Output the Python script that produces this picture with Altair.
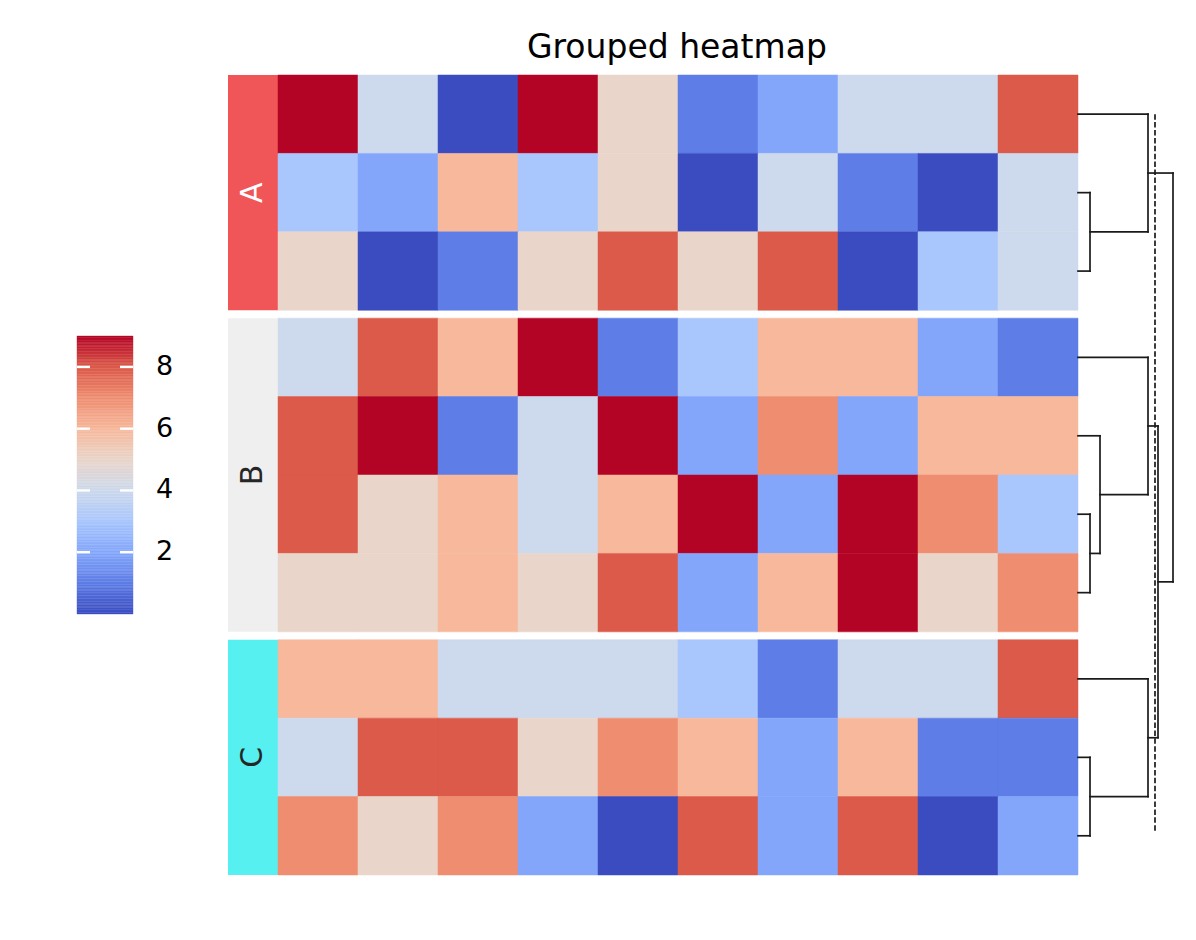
import altair as alt
import pandas as pd
import numpy as np

# ---------------- data ----------------
title_text = "Grouped heatmap"
groups = ["A", "B", "C"]
group_sizes = [3, 4, 3]
group_colors = ["#f05558", "#efefef", "#55f0ef"]
group_text_colors = ["#ffffff", "#262626", "#262626"]

row_A1 = [9, 4, 0, 9, 5, 1, 2, 4, 4, 8]
row_A2 = [3, 2, 6, 3, 5, 0, 4, 1, 0, 4]
row_A3 = [5, 0, 1, 5, 8, 5, 8, 0, 3, 4]
row_B1 = [4, 8, 6, 9, 1, 3, 6, 6, 2, 1]
row_B2 = [8, 9, 1, 4, 9, 2, 7, 2, 6, 6]
row_B3 = [8, 5, 6, 4, 6, 9, 2, 9, 7, 3]
row_B4 = [5, 5, 6, 5, 8, 2, 6, 9, 5, 7]
row_C1 = [6, 6, 4, 4, 4, 3, 1, 4, 4, 8]
row_C2 = [4, 8, 8, 5, 7, 6, 2, 6, 1, 1]
row_C3 = [7, 5, 7, 2, 0, 8, 2, 8, 0, 2]
rows = [row_A1, row_A2, row_A3, row_B1, row_B2, row_B3, row_B4, row_C1, row_C2, row_C3]

# dendrogram linkage (leaves 0..9 = rows top to bottom, internal nodes 10..)
link_left = [1, 0, 5, 4, 3, 8, 7, 14, 11]
link_right = [2, 10, 6, 12, 13, 9, 15, 16, 17]
link_height = [1.2, 7.0, 1.2, 2.2, 7.0, 1.2, 7.0, 8.0, 9.5]
cut_height = 7.7

cbar_ticks = [2, 4, 6, 8]
cmap_domain = [0, 1, 2, 3, 4, 5, 6, 7, 8, 9]
cmap_colors = ["#3b4cc0", "#5e7de6", "#83a6fb", "#a9c6fd", "#cdd9ec",
               "#e9d5ca", "#f7b89c", "#ef8d70", "#db5a49", "#b40426"]

# ---------------- layout helpers ----------------
GAP = 0.1
row_top = []
offset = 0.0
for gi, n in enumerate(group_sizes):
    for k in range(n):
        row_top.append(offset + k)
    offset += n + GAP
Y_MAX = offset - GAP

yscale = alt.Scale(domain=[0, Y_MAX], reverse=True, nice=False, zero=False)
cscale = alt.Scale(domain=cmap_domain, range=cmap_colors, interpolate="rgb")

# heatmap table
cells = []
for r, vals in enumerate(rows):
    for c, v in enumerate(vals):
        cells.append({"c0": c, "c1": c + 1, "r0": row_top[r], "r1": row_top[r] + 1, "v": v})
cells = pd.DataFrame(cells)

W_HEAT, H = 800, 800
heat = alt.Chart(cells).mark_rect(strokeWidth=0.5).encode(
    x=alt.X("c0:Q", scale=alt.Scale(domain=[0, 10], nice=False, zero=False), axis=None),
    x2="c1:Q",
    y=alt.Y("r0:Q", scale=yscale, axis=None),
    y2="r1:Q",
    color=alt.Color("v:Q", scale=cscale, legend=None),
    stroke=alt.Stroke("v:Q", scale=cscale, legend=None),
).properties(width=W_HEAT, height=H)

# group strip
strip_rows = []
off = 0.0
for gi, n in enumerate(group_sizes):
    strip_rows.append({"g": groups[gi], "x0": 0, "x1": 1, "y0": off, "y1": off + n,
                       "ym": off + n / 2, "fill": group_colors[gi], "tc": group_text_colors[gi]})
    off += n + GAP
strip_df = pd.DataFrame(strip_rows)
sx = alt.Scale(domain=[0, 1], nice=False, zero=False)
strip_rect = alt.Chart(strip_df).mark_rect().encode(
    x=alt.X("x0:Q", scale=sx, axis=None), x2="x1:Q",
    y=alt.Y("y0:Q", scale=yscale, axis=None), y2="y1:Q",
    color=alt.Color("fill:N", scale=None, legend=None),
)
strip_text = alt.Chart(strip_df).mark_text(
    angle=270, fontSize=30, font="DejaVu Sans", align="center", baseline="middle"
).encode(
    x=alt.value(25),
    y=alt.Y("ym:Q", scale=yscale, axis=None),
    text="g:N",
    color=alt.Color("tc:N", scale=None, legend=None),
)
strip = alt.layer(strip_rect, strip_text).properties(width=50, height=H)

# dendrogram segments
node_y = [row_top[i] + 0.5 for i in range(len(rows))]
node_h = [0.0] * len(rows)
segs = []
for a, b, h in zip(link_left, link_right, link_height):
    ya, yb = node_y[a], node_y[b]
    segs.append({"x": node_h[a], "x2": h, "y": ya, "y2": ya})
    segs.append({"x": node_h[b], "x2": h, "y": yb, "y2": yb})
    segs.append({"x": h, "x2": h, "y": ya, "y2": yb})
    node_y.append((ya + yb) / 2)
    node_h.append(h)
segs = pd.DataFrame(segs)
dx = alt.Scale(domain=[0, 10], nice=False, zero=False)
dendro_lines = alt.Chart(segs).mark_rule(color="#1a1a1a", strokeWidth=1.7, strokeCap="square").encode(
    x=alt.X("x:Q", scale=dx, axis=None), x2="x2:Q",
    y=alt.Y("y:Q", scale=yscale, axis=None), y2="y2:Q",
)
cut_df = pd.DataFrame({"x": [cut_height], "y": [node_y[0]], "y2": [node_y[len(rows) - 1] - 0.04]})
dendro_cut = alt.Chart(cut_df).mark_rule(color="#1a1a1a", strokeWidth=1.7, strokeDash=[5.5, 2.4]).encode(
    x=alt.X("x:Q", scale=dx, axis=None),
    y=alt.Y("y:Q", scale=yscale, axis=None), y2="y2:Q",
)
dendro = alt.layer(dendro_lines, dendro_cut).properties(width=100, height=H)

# colorbar
steps = np.arange(0, 9, 0.05)
cb_df = pd.DataFrame({"v0": steps, "v1": steps + 0.05, "vm": steps + 0.025})
cby = alt.Scale(domain=[-8.45, 17.45], nice=False, zero=False)
cb_rect = alt.Chart(cb_df).mark_rect(strokeWidth=0.4).encode(
    x=alt.value(0), x2=alt.value(56),
    y=alt.Y("v0:Q", scale=cby, axis=None), y2="v1:Q",
    color=alt.Color("vm:Q", scale=cscale, legend=None),
    stroke=alt.Stroke("vm:Q", scale=cscale, legend=None),
)
tick_df = pd.DataFrame({"t": cbar_ticks, "lab": [str(t) for t in cbar_ticks]})
cb_tick_l = alt.Chart(tick_df).mark_rule(color="white", strokeWidth=2.4).encode(
    x=alt.value(0), x2=alt.value(13), y=alt.Y("t:Q", scale=cby, axis=None))
cb_tick_r = alt.Chart(tick_df).mark_rule(color="white", strokeWidth=2.4).encode(
    x=alt.value(43), x2=alt.value(56), y=alt.Y("t:Q", scale=cby, axis=None))
cb_lab = alt.Chart(tick_df).mark_text(
    align="left", baseline="middle", fontSize=27, font="DejaVu Sans", color="#000000"
).encode(x=alt.value(79), y=alt.Y("t:Q", scale=cby, axis=None), text="lab:N")
cbar = alt.layer(cb_rect, cb_tick_l, cb_tick_r, cb_lab).properties(width=151, height=H)

chart = alt.hconcat(cbar, strip, heat, dendro, spacing=0, bounds="flush").properties(
    title=alt.TitleParams(title_text, fontSize=33, font="DejaVu Sans", fontWeight="normal",
                          color="#000000", anchor="middle", dx=50, offset=10),
    padding={"left": 75, "top": 31, "right": 5, "bottom": 5},
).configure(background="white").configure_view(strokeWidth=0, stroke="transparent")

chart.save("out.html", embed_options={"renderer": "svg", "actions": False})
